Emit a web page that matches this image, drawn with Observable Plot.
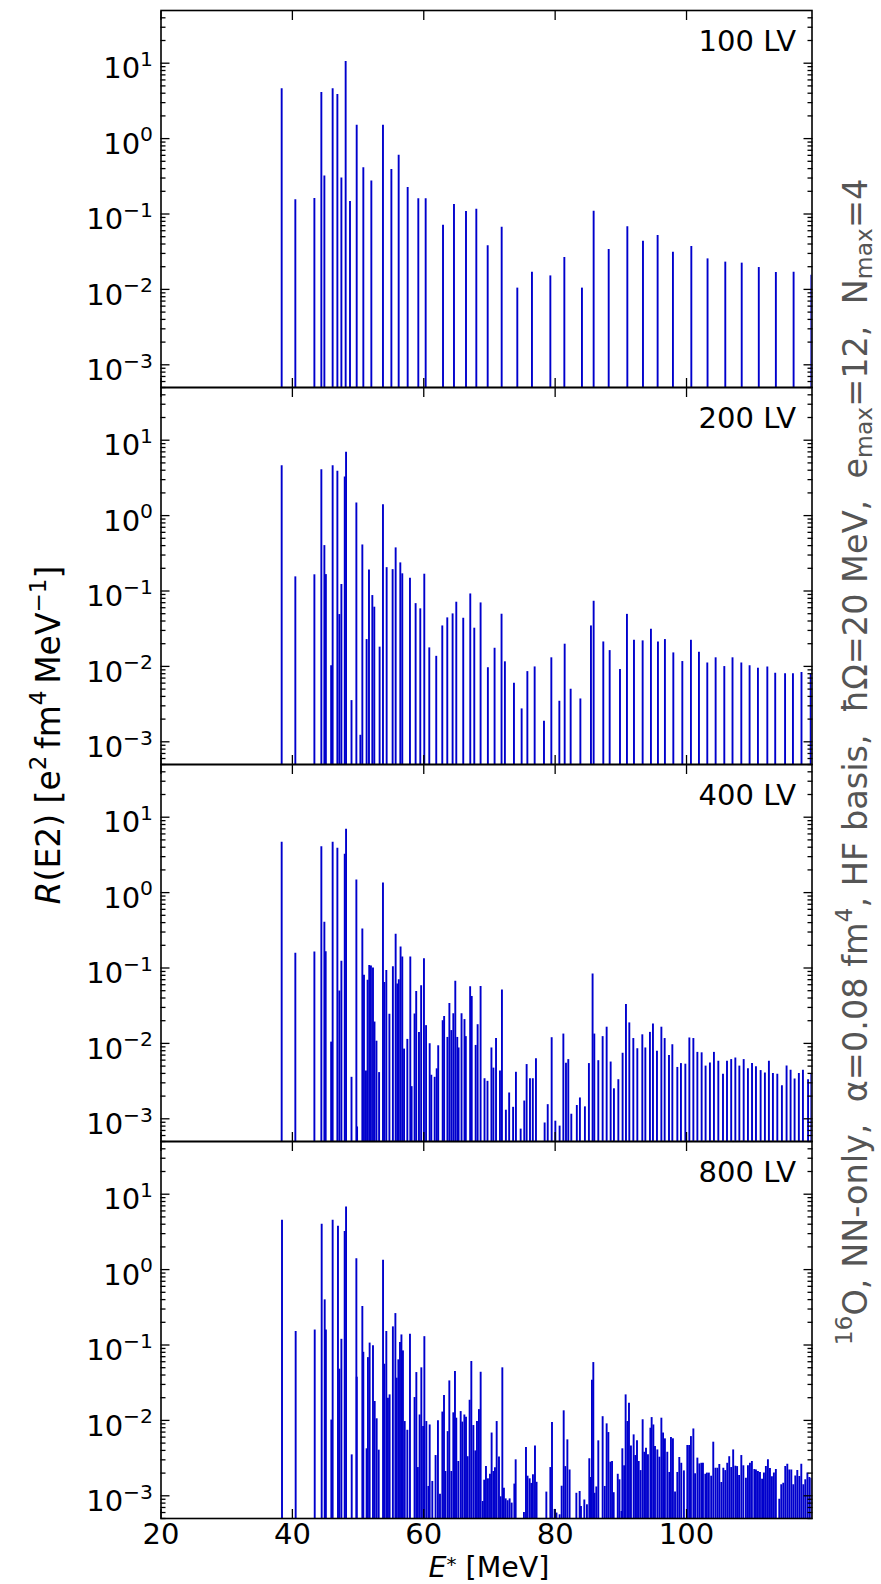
<!DOCTYPE html>
<html><head><meta charset="utf-8">
<script src="https://cdn.jsdelivr.net/npm/d3@7"></script>
<script src="https://cdn.jsdelivr.net/npm/@observablehq/plot@0.6"></script>
<style>
html,body{margin:0;padding:0;background:#fff;}
#fig{position:relative;width:881px;height:1584px;overflow:hidden;}
#fig svg{display:block;overflow:visible;}
</style></head>
<body><div id="fig"></div>
<script>
// ---------- data ----------
const panels = ["100 LV", "200 LV", "400 LV", "800 LV"];

const lv100 = [[38.37,4.6],[40.45,0.154],[43.35,0.16],[44.41,4.08],[44.87,0.32],[46.13,4.6],[46.85,3.85],[47.46,0.30],[48.11,10.5],[48.77,0.147],[49.79,1.5],[50.8,0.41],[52.02,0.275],[53.79,1.5],[55.07,0.39],[56.18,0.60],[57.55,0.224],[59.17,0.159],[60.29,0.159],[62.93,0.071],[64.6,0.134],[66.43,0.108],[68.0,0.116],[69.73,0.0378],[71.86,0.0668],[74.24,0.0104],[76.47,0.0169],[79.27,0.0151],[81.4,0.0265],[84.08,0.0104],[85.86,0.109],[88.15,0.0338],[90.99,0.068],[93.37,0.0435],[95.6,0.0518],[97.93,0.0311],[100.73,0.037],[103.2,0.0254],[105.9,0.023],[108.4,0.0223],[111.0,0.0195],[113.6,0.0168],[116.3,0.0169],[119.0,0.0154]];

const lv200 = [[38.37,4.6],[40.45,0.154],[43.35,0.164],[44.41,4.07],[44.87,0.40],[45.1,0.165],[45.9,0.0102],[46.13,4.6],[46.85,3.88],[47.15,0.0487],[47.46,0.122],[47.97,3.26],[48.17,6.93],[49.0,0.00352],[49.74,1.47],[50.35,0.00122],[50.65,0.408],[51.3,0.0227],[51.66,0.19],[52.17,0.087],[52.47,0.061],[53.28,0.018],[53.79,1.39],[54.35,0.204],[55.26,0.192],[55.72,0.373],[56.43,0.236],[56.73,0.169],[57.9,0.148],[58.76,0.068],[59.47,0.058],[60.08,0.167],[60.84,0.0176],[61.9,0.0136],[62.82,0.0344],[63.58,0.044],[64.39,0.0497],[64.95,0.071],[66.01,0.0435],[67.08,0.0914],[67.69,0.0321],[68.65,0.0695],[69.76,0.0096],[70.78,0.0174],[71.84,0.0492],[72.35,0.0115],[73.73,0.00598],[74.9,0.00273],[75.77,0.00853],[76.88,0.00984],[78.3,0.00187],[79.42,0.013],[80.64,0.00345],[81.45,0.0197],[82.36,0.00498],[83.84,0.0037],[85.45,0.0344],[85.86,0.0731],[87.33,0.0211],[88.3,0.0162],[89.87,0.0091],[90.93,0.049],[92.0,0.0222],[93.32,0.0218],[94.58,0.0311],[95.65,0.0211],[96.71,0.0227],[97.99,0.0151],[99.36,0.0116],[100.67,0.0222],[101.89,0.0154],[103.16,0.0111],[104.43,0.013],[105.75,0.00995],[107.0,0.013],[108.34,0.0111],[109.6,0.0102],[110.87,0.00946],[112.3,0.00984],[113.5,0.00813],[115.0,0.00796],[116.2,0.008],[117.5,0.0083],[118.9,0.0078]];

const lv400 = [[38.37,4.65],[40.45,0.157],[43.35,0.163],[44.41,4.07],[44.87,0.404],[45.07,0.164],[45.9,0.0104],[46.13,4.65],[46.85,3.87],[47.15,0.0496],[47.46,0.123],[47.97,3.22],[48.17,6.9],[49.0,0.00355],[49.74,1.47],[49.85,0.00078],[50.65,0.33],[50.9,0.08],[51.2,0.0043],[51.45,0.069],[51.7,0.108],[51.96,0.106],[52.27,0.1],[52.5,0.0192],[52.8,0.0107],[53.2,0.0041],[53.79,1.34],[54.0,0.064],[54.3,0.093],[54.77,0.0243],[55.3,0.104],[55.72,0.28],[55.97,0.0614],[56.2,0.07],[56.47,0.19],[56.73,0.14],[57.0,0.0084],[57.5,0.0113],[57.95,0.14],[58.15,0.00267],[58.6,0.0246],[58.85,0.0487],[59.27,0.014],[59.6,0.058],[60.03,0.133],[60.35,0.0172],[60.9,0.0099],[61.15,0.00378],[61.66,0.00355],[61.97,0.0046],[62.2,0.0093],[62.88,0.02],[63.1,0.0227],[63.6,0.012],[63.9,0.0337],[64.2,0.0148],[64.5,0.0248],[64.8,0.0665],[65.1,0.012],[65.3,0.0087],[65.75,0.0248],[66.2,0.0207],[66.4,0.0123],[67.06,0.0566],[67.3,0.042],[67.9,0.0094],[68.2,0.0177],[68.65,0.057],[69.25,0.0034],[69.7,0.00314],[70.3,0.0087],[70.6,0.0047],[71.0,0.0116],[71.6,0.0043],[71.9,0.051],[72.5,0.0013],[73.0,0.0022],[73.6,0.00142],[74.03,0.00414],[74.75,0.00073],[75.3,0.00172],[75.66,0.00524],[76.17,0.0034],[76.6,0.0034],[77.08,0.00628],[78.4,0.00088],[78.87,0.00154],[79.47,0.0119],[80.03,0.00093],[80.68,0.0008],[81.25,0.0133],[81.65,0.00545],[82.0,0.0061],[82.46,0.00115],[83.3,0.0015],[83.77,0.00189],[84.53,0.00144],[85.14,0.0054],[85.7,0.083],[85.96,0.0133],[86.57,0.0059],[87.23,0.0123],[87.84,0.0164],[88.45,0.00566],[88.95,0.0025],[89.62,0.0033],[90.27,0.0074],[90.78,0.0327],[91.29,0.0187],[91.9,0.0116],[92.51,0.0085],[93.27,0.013],[93.73,0.0087],[94.43,0.014],[94.89,0.0181],[95.5,0.00785],[96.17,0.0164],[96.67,0.0116],[97.33,0.0069],[97.84,0.0096],[98.6,0.0048],[99.15,0.0054],[99.82,0.0053],[100.43,0.0118],[101.04,0.0116],[101.65,0.0076],[102.3,0.0075],[102.9,0.005],[103.56,0.0055],[104.17,0.0076],[104.84,0.0058],[105.55,0.0039],[106.16,0.0058],[106.8,0.0061],[107.43,0.0064],[108.04,0.005],[108.7,0.0061],[109.35,0.0046],[109.97,0.0054],[110.57,0.0049],[111.28,0.00436],[111.93,0.00405],[112.54,0.0058],[113.15,0.004],[113.82,0.0039],[114.52,0.00275],[115.23,0.005],[115.84,0.0044],[116.45,0.00337],[117.1,0.004],[117.72,0.0044],[118.5,0.0033],[119.0,0.0039]];

const lv800 = [[38.42,4.52],[40.5,0.151],[43.4,0.158],[44.46,4.0],[44.92,0.397],[45.1,0.158],[45.93,0.0101],[46.13,4.52],[46.94,3.77],[47.15,0.0478],[47.46,0.119],[47.96,3.2],[48.17,6.79],[49.03,0.00349],[49.74,1.39],[49.8,0.0374],[50.65,0.324],[50.8,0.08],[51.3,0.0042],[51.5,0.068],[51.76,0.106],[52.27,0.098],[52.53,0.0178],[52.83,0.0105],[53.14,0.00403],[53.8,1.33],[54.0,0.0556],[54.3,0.151],[54.55,0.0197],[54.8,0.0218],[55.3,0.174],[55.68,0.261],[55.88,0.0363],[56.13,0.0636],[56.38,0.108],[56.6,0.136],[56.83,0.0835],[57.1,0.00966],[57.5,0.0074],[57.9,0.139],[58.6,0.0201],[58.87,0.0431],[59.1,0.00237],[59.37,0.0118],[59.63,0.0498],[59.9,0.0083],[60.09,0.129],[60.39,0.00966],[60.7,0.00133],[60.9,0.0087],[61.3,0.00155],[61.8,0.00342],[62.16,0.00986],[62.47,0.00105],[62.83,0.0129],[63.08,0.0214],[63.3,0.0021],[63.64,0.0071],[63.89,0.0334],[64.2,0.0021],[64.5,0.0126],[64.75,0.0445],[64.95,0.0107],[65.26,0.00285],[65.62,0.0131],[65.87,0.0095],[66.18,0.0118],[66.43,0.011],[66.68,0.0033],[66.98,0.0185],[67.24,0.0604],[67.55,0.00855],[67.85,0.00394],[68.1,0.00966],[68.4,0.0139],[68.66,0.0435],[68.97,0.00084],[69.2,0.00161],[69.47,0.00244],[69.77,0.00168],[70.08,0.00193],[70.33,0.0068],[70.6,0.0021],[70.84,0.00236],[71.1,0.00966],[71.45,0.00328],[71.7,0.00097],[71.96,0.0498],[72.2,0.00126],[72.47,0.00091],[72.77,0.00086],[73.07,0.00091],[73.38,0.0008],[73.79,0.00143],[73.99,0.003],[75.25,0.0006],[75.56,0.00437],[75.8,0.00182],[76.12,0.00168],[76.37,0.00146],[76.62,0.0019],[76.93,0.00459],[77.17,0.00151],[78.66,0.00112],[79.27,0.00237],[79.52,0.00938],[79.92,0.00066],[80.2,0.00059],[80.68,0.00056],[80.99,0.00134],[81.3,0.0134],[81.55,0.00244],[81.86,0.00552],[82.2,0.0022],[83.23,0.00108],[83.73,0.00114],[83.93,0.00072],[84.44,0.00088],[84.84,0.00076],[85.2,0.0031],[85.4,0.00175],[85.6,0.0341],[85.81,0.0585],[86.0,0.00108],[86.27,0.00131],[86.57,0.00536],[87.23,0.0112],[87.55,0.00133],[87.84,0.009],[88.1,0.0069],[88.4,0.00279],[88.66,0.00285],[88.91,0.0011],[89.53,0.00193],[89.79,0.00163],[90.1,0.00062],[90.23,0.0042],[90.5,0.0025],[90.73,0.0218],[91.0,0.00966],[91.24,0.0169],[91.54,0.00459],[91.95,0.00643],[92.2,0.00342],[92.46,0.00536],[92.72,0.00285],[93.01,0.00216],[93.32,0.0102],[93.58,0.00378],[93.83,0.00428],[94.13,0.00349],[94.5,0.00788],[94.69,0.0109],[94.95,0.0087],[95.2,0.0045],[95.56,0.00406],[95.87,0.00325],[96.17,0.0107],[96.43,0.0068],[96.71,0.00569],[97.07,0.00378],[97.38,0.00204],[97.63,0.00593],[97.93,0.0057],[98.25,0.00112],[98.6,0.00204],[98.9,0.00322],[99.2,0.0027],[99.6,0.00214],[100.12,0.00465],[100.4,0.00465],[100.67,0.0061],[101.04,0.0077],[101.3,0.00196],[101.65,0.00316],[101.95,0.00265],[102.25,0.0027],[102.5,0.0027],[102.86,0.00193],[103.1,0.002],[103.4,0.002],[103.75,0.00182],[104.07,0.00514],[104.4,0.00232],[104.7,0.00232],[104.99,0.0026],[105.3,0.0015],[105.6,0.00232],[105.9,0.00216],[106.2,0.0027],[106.5,0.0033],[106.8,0.00237],[107.1,0.00406],[107.43,0.00247],[107.7,0.00244],[108.0,0.00186],[108.34,0.00342],[108.65,0.0025],[109.04,0.00171],[109.35,0.0025],[109.65,0.0027],[109.95,0.00285],[110.32,0.00223],[110.57,0.0022],[110.87,0.0021],[111.18,0.00204],[111.5,0.00166],[111.78,0.002],[112.08,0.00244],[112.39,0.003],[112.7,0.0023],[113.0,0.00179],[113.3,0.002],[113.6,0.00223],[114.12,0.0009],[114.42,0.0014],[114.73,0.00147],[115.03,0.00244],[115.34,0.00262],[115.64,0.0022],[115.95,0.0022],[116.25,0.0014],[116.56,0.00183],[116.86,0.00216],[117.17,0.0018],[117.47,0.00262],[117.78,0.0014],[118.08,0.00163],[118.4,0.002],[118.7,0.00175],[119.0,0.0017]];

const xDomain = [20, 119.1];
const yDomain = [5e-4, 50];
const xTicks = [20, 40, 60, 80, 100];
const yMajor = [1e-3, 1e-2, 1e-1, 1, 10];
const yMinor = [5e-4,6e-4,7e-4,8e-4,9e-4, 2e-3,3e-3,4e-3,5e-3,6e-3,7e-3,8e-3,9e-3, 2e-2,3e-2,4e-2,5e-2,6e-2,7e-2,8e-2,9e-2, 0.2,0.3,0.4,0.5,0.6,0.7,0.8,0.9, 2,3,4,5,6,7,8,9, 20,30,40];

// ---------- build ----------
const series = [lv100, lv200, lv400, lv800];
const rows = panels.flatMap((p, i) => series[i].map(([E, R]) => ({panel: p, E, R})));

const FS = 29;      // tick labels, panel labels
const LFS = 33;     // axis label, side annotation
const FONT = "DejaVu Sans";
const blue = "#0000cd";

const chart = Plot.plot({
  width: 881, height: 1584,
  marginLeft: 160.5, marginRight: 69.5, marginTop: 9, marginBottom: 66,
  style: {fontFamily: FONT, fontSize: FS + "px", color: "black", background: "white", overflow: "visible"},
  x: {domain: xDomain, label: null},
  y: {type: "log", domain: yDomain, label: null},
  fy: {domain: panels, padding: 0, axis: null, label: null},
  marks: [
    Plot.ruleX(rows, {x: "E", y1: () => yDomain[0], y2: "R", fy: "panel", stroke: blue, strokeWidth: 1.9, clip: true}),
    Plot.axisY(yMinor, {anchor: "left", tickSize: -5, tickFormat: () => "", label: null, strokeWidth: 1.3}),
    Plot.axisY(yMajor, {anchor: "left", tickSize: -9, tickFormat: () => "", label: null, strokeWidth: 1.3}),
    Plot.axisY(yMajor, {anchor: "left", tickSize: 0, tickPadding: 8, dy: 6, fontSize: FS, label: null,
      tickFormat: d => "10^" + String(Math.round(Math.log10(d))).replace("-", "−")}),
    Plot.axisY(yMinor, {anchor: "right", tickSize: -5, tickFormat: () => "", label: null, strokeWidth: 1.3}),
    Plot.axisY(yMajor, {anchor: "right", tickSize: -9, tickFormat: () => "", label: null, strokeWidth: 1.3}),
    Plot.axisX(xTicks, {anchor: "top", tickSize: -9, tickFormat: () => "", facetAnchor: null, label: null, strokeWidth: 1.3}),
    Plot.axisX(xTicks, {anchor: "bottom", tickSize: -9, tickFormat: () => "", facetAnchor: null, label: null, strokeWidth: 1.3}),
    Plot.axisX(xTicks, {anchor: "bottom", tickSize: 0, tickPadding: 5, fontSize: FS, label: null}),
    Plot.frame({stroke: "black", strokeWidth: 1.6}),
    Plot.text(panels, {fy: d => d, text: d => d, frameAnchor: "top-right", textAnchor: "end", lineAnchor: "top", dx: -16, dy: 20, fontSize: FS, fill: "black"})
  ]
});

document.getElementById("fig").appendChild(chart);

// superscripts in tick labels (10^n)
const svg = d3.select(chart.tagName.toLowerCase() === "svg" ? chart : chart.querySelector("svg"));
svg.selectAll("text").each(function () {
  const t = this.textContent;
  const m = t.match(/^10\^(.+)$/);
  if (!m) return;
  const el = d3.select(this);
  el.text("");
  el.append("tspan").text("10");
  el.append("tspan").attr("font-size", "0.7em").attr("dy", "-0.62em").text(m[1]);
});

const sup = (sel, s) => { sel.append("tspan").attr("font-size", "0.7em").attr("dy", "-0.62em").text(s); };
const back = "0.434em";

// y label
const yl = svg.append("text").attr("font-family", FONT).attr("font-size", LFS)
  .attr("text-anchor", "middle").attr("xml:space", "preserve").style("white-space", "pre")
  .attr("transform", "translate(60,735) rotate(-90)");
yl.append("tspan").attr("font-style", "italic").text("R");
yl.append("tspan").text("(E2) [e");
sup(yl, "2");
yl.append("tspan").attr("dy", back).text("\u2009fm");
sup(yl, "4");
yl.append("tspan").attr("dy", back).text("\u2009MeV");
sup(yl, "−1");
yl.append("tspan").attr("dy", back).text("]");

// x label (kept fully inside the picture)
const xl = svg.append("text").attr("font-family", FONT).attr("font-size", 28.5)
  .attr("text-anchor", "middle").attr("xml:space", "preserve").style("white-space", "pre")
  .attr("transform", "translate(489,1576.5)");
xl.append("tspan").attr("font-style", "italic").text("E");
xl.append("tspan").attr("font-size", "0.7em").attr("dy", "-0.28em").text("*");
xl.append("tspan").attr("dy", "0.196em").text(" [MeV]");

// right side annotation
const st = svg.append("text").attr("font-family", FONT).attr("font-size", 33.5).attr("fill", "#555")
  .attr("text-anchor", "middle").attr("xml:space", "preserve").style("white-space", "pre")
  .attr("transform", "translate(867,762) rotate(-90)");
sup(st, "16");
st.append("tspan").attr("dy", back).text("O, NN-only,  α=0.08 fm");
sup(st, "4");
st.append("tspan").attr("dy", back).text(", HF basis,  ħΩ=20 MeV,  e");
st.append("tspan").attr("font-size", "0.7em").attr("dy", "0.2em").text("max");
st.append("tspan").attr("dy", "-0.14em").text("=12,  N");
st.append("tspan").attr("font-size", "0.7em").attr("dy", "0.2em").text("max");
st.append("tspan").attr("dy", "-0.14em").text("=4");
</script>
</body></html>
